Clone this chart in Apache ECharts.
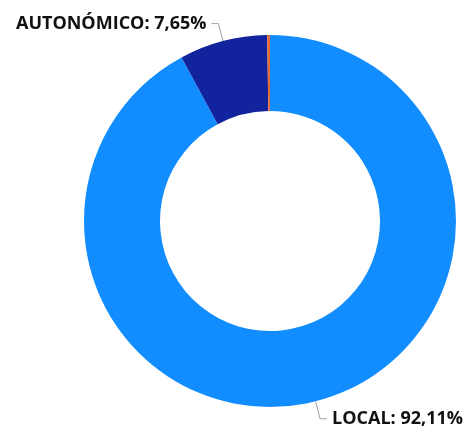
<!DOCTYPE html>
<html>
<head>
<meta charset="utf-8">
<script src="https://cdn.jsdelivr.net/npm/echarts@6/dist/echarts.min.js"></script>
<style>
  html, body { margin: 0; padding: 0; background: #fff; }
  #chart { width: 468px; height: 430px; }
</style>
</head>
<body>
<div id="chart"></div>
<script>
// percent share per level
const categories = ['LOCAL', 'AUTONÓMICO', 'OTROS'];
const shares = [92.11, 7.65, 0.24];
const colors = ['#118DFF', '#12239E', '#E66C37'];
const showLabel = [true, true, false];

const fmt = v => v.toFixed(2).replace('.', ',') + '%';

const myChart = echarts.init(document.getElementById('chart'));
myChart.setOption({
  animation: false,
  series: [{
    type: 'pie',
    center: [270, 221],
    radius: [110, 186],
    startAngle: 90,
    clockwise: true,
    avoidLabelOverlap: false,
    label: {
      color: '#111',
      fontFamily: 'Open Sans',
      fontWeight: 'bold',
      fontSize: 18,
      formatter: p => p.name + ': ' + fmt(p.value)
    },
    labelLine: {
      length: 18,
      length2: 7,
      lineStyle: { color: '#A0A0A0', width: 1 }
    },
    data: categories.map((c, i) => ({
      name: c,
      value: shares[i],
      itemStyle: { color: colors[i] },
      label: { show: showLabel[i] },
      labelLine: { show: showLabel[i] }
    }))
  }]
});
</script>
</body>
</html>
